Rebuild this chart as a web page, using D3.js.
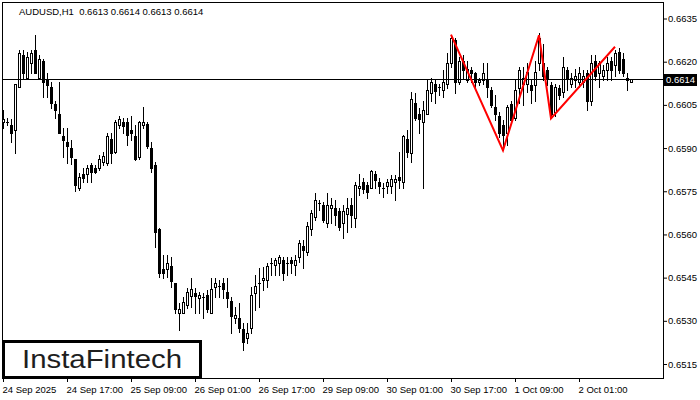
<!DOCTYPE html>
<html>
<head>
<meta charset="utf-8">
<script src="https://cdn.jsdelivr.net/npm/d3@7"></script>
<style>
  body { margin: 0; background: #fff; }
  svg { display: block; }
  text { font-family: "Liberation Sans", Arial, sans-serif; }
</style>
</head>
<body>
<div class="chart"></div>
<script>
// AUDUSD H1 candles, [open, high, low, close]
const ohlc = [
  [0.65989,0.66031,0.65968,0.66000],[0.65989,0.66003,0.65979,0.65990],[0.65979,0.66000,0.65920,0.65951],[0.65961,0.66124,0.65882,0.66121],
  [0.66111,0.66239,0.66111,0.66229],[0.66222,0.66239,0.66142,0.66159],[0.66145,0.66232,0.66145,0.66218],[0.66197,0.66239,0.66159,0.66229],
  [0.66239,0.66291,0.66159,0.66159],[0.66145,0.66222,0.66145,0.66211],[0.66201,0.66211,0.66076,0.66128],[0.66135,0.66159,0.66076,0.66118],
  [0.66111,0.66128,0.66038,0.66058],[0.66052,0.66065,0.66006,0.66031],[0.66020,0.66128,0.65951,0.65951],[0.65941,0.65968,0.65868,0.65927],
  [0.65920,0.65968,0.65847,0.65906],[0.65899,0.65927,0.65843,0.65868],[0.65861,0.65861,0.65750,0.65770],[0.65760,0.65812,0.65753,0.65798],
  [0.65809,0.65830,0.65781,0.65795],[0.65809,0.65840,0.65781,0.65830],[0.65840,0.65847,0.65781,0.65816],[0.65830,0.65840,0.65812,0.65816],
  [0.65830,0.65875,0.65823,0.65861],[0.65850,0.65885,0.65840,0.65871],[0.65847,0.65951,0.65840,0.65941],[0.65930,0.65951,0.65847,0.65882],
  [0.65885,0.65996,0.65882,0.65989],[0.65979,0.66013,0.65968,0.66000],[0.65989,0.66006,0.65954,0.65975],[0.65989,0.66006,0.65909,0.65947],
  [0.65961,0.66013,0.65927,0.65951],[0.65941,0.65979,0.65857,0.65861],[0.65868,0.65993,0.65861,0.65989],[0.65979,0.66041,0.65968,0.65989],
  [0.65982,0.65989,0.65899,0.65906],[0.65899,0.65920,0.65816,0.65830],[0.65840,0.65850,0.65555,0.65607],[0.65618,0.65621,0.65451,0.65465],
  [0.65479,0.65528,0.65448,0.65465],[0.65479,0.65528,0.65451,0.65500],[0.65489,0.65520,0.65416,0.65437],[0.65430,0.65430,0.65326,0.65340],
  [0.65326,0.65361,0.65268,0.65340],[0.65326,0.65382,0.65326,0.65365],[0.65354,0.65413,0.65344,0.65399],[0.65385,0.65448,0.65347,0.65409],
  [0.65396,0.65413,0.65326,0.65385],[0.65378,0.65399,0.65326,0.65389],[0.65382,0.65396,0.65309,0.65383],[0.65389,0.65406,0.65330,0.65340],
  [0.65326,0.65448,0.65326,0.65409],[0.65416,0.65448,0.65382,0.65430],[0.65420,0.65441,0.65382,0.65421],[0.65430,0.65448,0.65378,0.65409],
  [0.65399,0.65448,0.65347,0.65378],[0.65368,0.65382,0.65257,0.65316],[0.65309,0.65347,0.65292,0.65319],[0.65309,0.65361,0.65261,0.65274],
  [0.65271,0.65292,0.65198,0.65226],[0.65240,0.65292,0.65222,0.65257],[0.65274,0.65416,0.65257,0.65389],[0.65396,0.65458,0.65337,0.65420],
  [0.65430,0.65482,0.65347,0.65431],[0.65441,0.65486,0.65406,0.65448],[0.65441,0.65500,0.65416,0.65489],[0.65500,0.65517,0.65458,0.65501],
  [0.65493,0.65517,0.65458,0.65510],[0.65500,0.65528,0.65458,0.65520],[0.65510,0.65520,0.65441,0.65465],[0.65500,0.65520,0.65458,0.65501],
  [0.65510,0.65520,0.65465,0.65500],[0.65493,0.65528,0.65458,0.65510],[0.65520,0.65580,0.65503,0.65570],[0.65559,0.65580,0.65482,0.65545],
  [0.65538,0.65642,0.65528,0.65628],[0.65618,0.65684,0.65597,0.65673],[0.65659,0.65743,0.65649,0.65718],[0.65708,0.65718,0.65684,0.65709],
  [0.65701,0.65712,0.65642,0.65649],[0.65639,0.65743,0.65625,0.65701],[0.65691,0.65725,0.65639,0.65701],[0.65691,0.65718,0.65632,0.65666],
  [0.65680,0.65691,0.65614,0.65625],[0.65639,0.65701,0.65587,0.65680],[0.65670,0.65725,0.65607,0.65691],[0.65701,0.65725,0.65625,0.65666],
  [0.65656,0.65781,0.65625,0.65770],[0.65760,0.65809,0.65736,0.65767],[0.65781,0.65795,0.65743,0.65757],[0.65770,0.65781,0.65725,0.65746],
  [0.65760,0.65823,0.65760,0.65819],[0.65809,0.65819,0.65760,0.65788],[0.65781,0.65795,0.65743,0.65767],[0.65760,0.65777,0.65729,0.65761],
  [0.65767,0.65791,0.65743,0.65781],[0.65767,0.65805,0.65743,0.65791],[0.65781,0.65805,0.65718,0.65791],[0.65798,0.65888,0.65760,0.65788],
  [0.65781,0.65944,0.65760,0.65941],[0.65930,0.65961,0.65868,0.65885],[0.65882,0.66093,0.65850,0.66069],[0.66058,0.66090,0.65996,0.66006],
  [0.66020,0.66038,0.65951,0.66000],[0.65989,0.66065,0.65760,0.66031],[0.66020,0.66135,0.66020,0.66100],[0.66090,0.66142,0.66065,0.66131],
  [0.66121,0.66135,0.66055,0.66097],[0.66111,0.66124,0.66083,0.66112],[0.66100,0.66170,0.66076,0.66131],[0.66121,0.66229,0.66107,0.66197],
  [0.66197,0.66291,0.66180,0.66284],[0.66274,0.66284,0.66090,0.66128],[0.66131,0.66215,0.66124,0.66201],[0.66204,0.66222,0.66142,0.66170],
  [0.66138,0.66204,0.66128,0.66173],[0.66170,0.66180,0.66128,0.66159],[0.66159,0.66163,0.66111,0.66128],[0.66128,0.66145,0.66118,0.66138],
  [0.66135,0.66194,0.66124,0.66159],[0.66135,0.66194,0.66076,0.66111],[0.66100,0.66111,0.66041,0.66048],[0.66041,0.66083,0.65996,0.66020],
  [0.66013,0.66024,0.65937,0.65951],[0.65979,0.65996,0.65892,0.65944],[0.65951,0.66048,0.65909,0.66041],[0.66052,0.66065,0.65986,0.65996],
  [0.66006,0.66135,0.65996,0.66100],[0.66107,0.66180,0.66055,0.66170],[0.66124,0.66180,0.66048,0.66142],[0.66124,0.66194,0.66093,0.66163],
  [0.66118,0.66135,0.66058,0.66100],[0.66118,0.66204,0.66065,0.66163],[0.66194,0.66298,0.66170,0.66284],[0.66197,0.66263,0.66135,0.66152],
  [0.66170,0.66180,0.66118,0.66145],[0.66118,0.66128,0.66003,0.66020],[0.66024,0.66124,0.66013,0.66111],[0.66107,0.66118,0.66072,0.66083],
  [0.66093,0.66215,0.66076,0.66180],[0.66170,0.66180,0.66100,0.66142],[0.66124,0.66159,0.66111,0.66142],[0.66135,0.66176,0.66111,0.66152],
  [0.66128,0.66180,0.66111,0.66159],[0.66128,0.66170,0.66111,0.66149],[0.66159,0.66170,0.66031,0.66065],[0.66065,0.66222,0.66048,0.66197],
  [0.66204,0.66222,0.66135,0.66152],[0.66159,0.66204,0.66111,0.66194],[0.66152,0.66187,0.66135,0.66170],[0.66170,0.66215,0.66135,0.66194],
  [0.66204,0.66215,0.66135,0.66170],[0.66187,0.66239,0.66152,0.66229],[0.66232,0.66246,0.66159,0.66170],[0.66211,0.66229,0.66152,0.66159],
  [0.66145,0.66159,0.66100,0.66135],[0.66130,0.66140,0.66130,0.66140]
];

// triple top pattern (bar index, price)
const patternBars = [112, 125, 134, 137, 153];
const patternPrices = [0.66294, 0.65892, 0.66292, 0.66003, 0.66252];

const yTicks = [0.6515, 0.6530, 0.6545, 0.6560, 0.6575, 0.6590, 0.6605, 0.6620, 0.6635];
const xTickBars = [0, 16, 32, 48, 64, 80, 96, 112, 128, 144];
const xTickLabels = ['24 Sep 2025', '24 Sep 17:00', '25 Sep 09:00', '26 Sep 01:00', '26 Sep 17:00',
  '29 Sep 09:00', '30 Sep 01:00', '30 Sep 17:00', '1 Oct 09:00', '2 Oct 01:00'];
const lastPrice = 0.6614;
const title = 'AUDUSD,H1  0.6613 0.6614 0.6613 0.6614';

const width = 700, height = 400;
const frame = {left: 2, right: 663, top: 2, bottom: 378};

const svg = d3.select('.chart').append('svg')
    .attr('width', width)
    .attr('height', height);

const xScale = d3.scaleLinear().domain([0, 157]).range([3, 631]);
const yScale = d3.scaleLinear().domain([0.6515, 0.6635]).range([364, 18.5]);

// frame
svg.append('rect')
    .attr('x', frame.left + 0.5).attr('y', frame.top + 0.5)
    .attr('width', frame.right - frame.left).attr('height', frame.bottom - frame.top)
    .attr('fill', 'none').attr('stroke', '#000')
    .attr('shape-rendering', 'crispEdges');

// axes
const yAxis = d3.axisRight(yScale)
    .tickValues(yTicks)
    .tickFormat(d3.format('.4f'))
    .tickSize(4)
    .tickPadding(1);
const gy = svg.append('g')
    .attr('transform', `translate(${frame.right},0)`)
    .call(yAxis);
gy.select('.domain').remove();
gy.selectAll('text').attr('font-size', 9.5).attr('fill', '#000').attr('font-family', '"Liberation Sans", Arial, sans-serif');

const xAxis = d3.axisBottom(xScale)
    .tickValues(xTickBars)
    .tickFormat((d, i) => xTickLabels[i])
    .tickSize(4)
    .tickPadding(4);
const gx = svg.append('g')
    .attr('transform', `translate(0,${frame.bottom})`)
    .call(xAxis);
gx.select('.domain').remove();
gx.selectAll('text').attr('font-size', 9.5).attr('fill', '#000')
    .attr('text-anchor', 'start').attr('x', -1)
    .attr('font-family', '"Liberation Sans", Arial, sans-serif');

// candles
const candles = svg.append('g').attr('shape-rendering', 'crispEdges');
ohlc.forEach((d, i) => {
    const [o, h, l, c] = d;
    const cx = Math.round(xScale(i));
    const yh = Math.round(yScale(h)), yl = Math.round(yScale(l));
    const yo = Math.round(yScale(o)), yc = Math.round(yScale(c));
    candles.append('rect')
        .attr('x', cx).attr('y', yh)
        .attr('width', 1).attr('height', yl - yh + 1)
        .attr('fill', '#000');
    const top = Math.min(yo, yc), bot = Math.max(yo, yc);
    if (c > o && bot - top >= 2) {
        candles.append('rect')
            .attr('x', cx - 0.5).attr('y', top + 0.5)
            .attr('width', 2).attr('height', bot - top)
            .attr('fill', '#fff').attr('stroke', '#000').attr('stroke-width', 1);
    } else {
        candles.append('rect')
            .attr('x', cx - 1).attr('y', top)
            .attr('width', 3).attr('height', bot - top + 1)
            .attr('fill', '#000');
    }
});

// current price line and tag
const yp = Math.round(yScale(lastPrice));
svg.append('line')
    .attr('x1', frame.left).attr('x2', frame.right)
    .attr('y1', yp + 0.5).attr('y2', yp + 0.5)
    .attr('stroke', '#000').attr('shape-rendering', 'crispEdges');
svg.append('rect')
    .attr('x', frame.right).attr('y', yp - 5)
    .attr('width', 34).attr('height', 12)
    .attr('fill', '#000');
svg.append('text')
    .attr('x', frame.right + 3).attr('y', yp + 1)
    .attr('dy', '0.35em')
    .attr('font-size', 9.5).attr('fill', '#fff')
    .text(d3.format('.4f')(lastPrice));

// pattern
const line = d3.line()
    .x((d, i) => xScale(patternBars[i]))
    .y(d => yScale(d));
svg.append('path')
    .datum(patternPrices)
    .attr('d', line)
    .attr('fill', 'none')
    .attr('stroke', '#ff0000')
    .attr('stroke-width', 2);

// title
svg.append('text')
    .attr('x', 19).attr('y', 15)
    .attr('font-size', 9.5).attr('fill', '#000')
    .attr('xml:space', 'preserve')
    .style('white-space', 'pre')
    .text(title);

// logo box
svg.append('rect')
    .attr('x', 3.5).attr('y', 341.5)
    .attr('width', 197).attr('height', 36)
    .attr('fill', '#fff').attr('stroke', '#000').attr('stroke-width', 3);
svg.append('text')
    .attr('x', 22).attr('y', 368)
    .attr('font-family', 'Roboto, "Open Sans", sans-serif')
    .attr('font-size', 25).attr('font-weight', 500)
    .attr('fill', '#1e1e1e')
    .attr('textLength', 160).attr('lengthAdjust', 'spacingAndGlyphs')
    .text('InstaFintech');
</script>
</body>
</html>
